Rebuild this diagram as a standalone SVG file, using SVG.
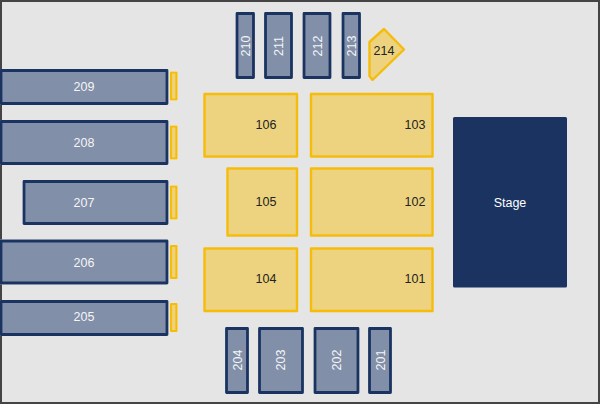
<svg xmlns="http://www.w3.org/2000/svg" width="600" height="404" viewBox="0 0 600 404">
<style>
text{font-family:"Liberation Sans",Arial,sans-serif;font-size:12.5px;text-anchor:middle}
.b rect{fill:#828fa8;stroke:#1a3361;stroke-width:2.8px;stroke-linejoin:round;filter:drop-shadow(0 0 .7px #fff)}
.b text{fill:#f4f5f7}
.y rect,.y polygon{fill:#edd37f;stroke:#f6bc0c;stroke-width:2.4px;stroke-linejoin:round}
.y text{fill:#222}
.s rect{fill:#edd37f;stroke:#f6bc0c;stroke-width:2.2px;stroke-linejoin:round;filter:drop-shadow(0 0 .7px #fff)}
</style>
<rect x="1" y="1" width="598" height="402" fill="#e5e5e5" stroke="#444" stroke-width="2"/>
<g class="b" id="s209"><rect x="1" y="70.500" width="166" height="33"/><text x="84" y="91">209</text></g>
<g class="b" id="s208"><rect x="1" y="121.500" width="166" height="42"/><text x="84" y="147">208</text></g>
<g class="b" id="s207"><rect x="24" y="181.500" width="143" height="42"/><text x="84" y="207">207</text></g>
<g class="b" id="s206"><rect x="1" y="241" width="166" height="42"/><text x="84" y="267">206</text></g>
<g class="b" id="s205"><rect x="1" y="301.500" width="166" height="33"/><text x="84" y="321">205</text></g>
<g class="s" id="r1"><rect x="171" y="72.500" width="5.500" height="27"/></g>
<g class="s" id="r2"><rect x="171" y="126.500" width="5.500" height="32"/></g>
<g class="s" id="r3"><rect x="171" y="186.500" width="5.500" height="32"/></g>
<g class="s" id="r4"><rect x="171" y="246" width="5.500" height="32"/></g>
<g class="s" id="r5"><rect x="171" y="304" width="5.500" height="27"/></g>
<g class="b" id="s210"><rect x="237" y="13.500" width="16.500" height="64"/><text transform="translate(250,46) rotate(-90)">210</text></g>
<g class="b" id="s211"><rect x="265.500" y="13.500" width="26" height="64"/><text transform="translate(283,46) rotate(-90)">211</text></g>
<g class="b" id="s212"><rect x="304" y="13.500" width="26" height="64"/><text transform="translate(322,46) rotate(-90)">212</text></g>
<g class="b" id="s213"><rect x="343" y="13.500" width="16.500" height="64"/><text transform="translate(356,46) rotate(-90)">213</text></g>
<g class="y" id="s214"><polygon points="369.500,42 384,29 404,49.500 372.500,80 369.500,76"/><text x="384" y="54.500">214</text></g>
<g class="y" id="s106"><rect x="204.500" y="94" width="92.500" height="62.500"/><text x="266" y="129">106</text></g>
<g class="y" id="s103"><rect x="311" y="94" width="121.500" height="62.500"/><text x="415" y="129">103</text></g>
<g class="y" id="s105"><rect x="227.500" y="168.500" width="69.500" height="67"/><text x="266" y="206">105</text></g>
<g class="y" id="s102"><rect x="311" y="168.500" width="121.500" height="67"/><text x="415" y="206">102</text></g>
<g class="y" id="s104"><rect x="204.500" y="248.500" width="92.500" height="62.500"/><text x="266" y="283">104</text></g>
<g class="y" id="s101"><rect x="311" y="248.500" width="121.500" height="62.500"/><text x="415" y="283">101</text></g>
<g class="b" id="s204"><rect x="226.500" y="328.500" width="21" height="64"/><text transform="translate(242,360) rotate(-90)">204</text></g>
<g class="b" id="s203"><rect x="259.500" y="328.500" width="43" height="64"/><text transform="translate(285,360) rotate(-90)">203</text></g>
<g class="b" id="s202"><rect x="315" y="328.500" width="43" height="64"/><text transform="translate(341,360) rotate(-90)">202</text></g>
<g class="b" id="s201"><rect x="369.500" y="328.500" width="21" height="64"/><text transform="translate(385,360) rotate(-90)">201</text></g>
<g id="stage"><rect x="453" y="117" width="114" height="170.500" rx="1.500" fill="#1a3361"/><text x="510" y="207" fill="#fff">Stage</text></g>
<g id="connectors"/>
</svg>
